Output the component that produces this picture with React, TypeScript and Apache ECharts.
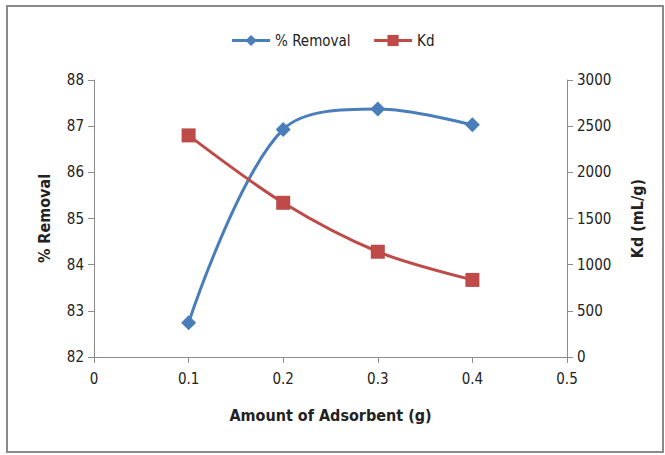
import React, { useEffect, useRef } from "react";
import * as echarts from "echarts";

const adsorbentAmounts = [0.1, 0.2, 0.3, 0.4];
const removalPercent = [82.74, 86.93, 87.37, 87.03];
const kdValues = [2400, 1670, 1140, 835];

const FONT = "'Liberation Sans Narrow', 'DejaVu Sans Condensed', 'Open Sans', sans-serif";
const BLUE = "#4A7EBB";
const RED = "#BE4B48";
const AXIS = "#8C8C8C";

export default function App() {
  const ref = useRef<HTMLDivElement>(null);

  useEffect(() => {
    if (!ref.current) return;
    const chart = echarts.init(ref.current, null, { renderer: "svg" });
    const axisBase = {
      axisLine: { show: true, lineStyle: { color: AXIS, width: 1 } },
      axisTick: { show: true, length: 6, inside: false, lineStyle: { color: AXIS } },
      splitLine: { show: false },
      axisLabel: { color: "#222", fontFamily: FONT, fontSize: 15, margin: 10 },
    };
    chart.setOption({
      animation: false,
      backgroundColor: "#fff",
      textStyle: { fontFamily: FONT },
      graphic: [
        {
          type: "rect",
          shape: { x: 7, y: 6, width: 656, height: 446 },
          style: { fill: "none", stroke: "#8A8A8A", lineWidth: 2 },
          silent: true,
        },
      ],
      legend: {
        top: 28,
        left: "center",
        itemWidth: 38,
        itemHeight: 14,
        itemGap: 22,
        lineStyle: { width: 3 },
        textStyle: { fontFamily: FONT, fontSize: 15, color: "#222" },
        data: ["% Removal", "Kd"],
      },
      grid: { left: 94, right: 98, top: 80, bottom: 98 },
      xAxis: {
        type: "value",
        min: 0,
        max: 0.5,
        interval: 0.1,
        name: "Amount of Adsorbent (g)",
        nameLocation: "middle",
        nameGap: 50,
        nameTextStyle: { fontFamily: FONT, fontSize: 16, fontWeight: "bold", color: "#222" },
        ...axisBase,
        axisLabel: { ...axisBase.axisLabel, margin: 14 },
      },
      yAxis: [
        {
          type: "value",
          min: 82,
          max: 88,
          interval: 1,
          position: "left",
          name: "% Removal",
          nameLocation: "middle",
          nameRotate: 90,
          nameGap: 42,
          nameTextStyle: { fontFamily: FONT, fontSize: 16, fontWeight: "bold", color: "#222" },
          ...axisBase,
        },
        {
          type: "value",
          min: 0,
          max: 3000,
          interval: 500,
          position: "right",
          name: "Kd (mL/g)",
          nameLocation: "middle",
          nameRotate: 90,
          nameGap: 62,
          nameTextStyle: { fontFamily: FONT, fontSize: 16, fontWeight: "bold", color: "#222" },
          ...axisBase,
          axisLabel: { ...axisBase.axisLabel, formatter: (v: number) => String(v) },
        },
      ],
      series: [
        {
          name: "% Removal",
          type: "line",
          yAxisIndex: 0,
          smooth: 0.35,
          symbol: "diamond",
          symbolSize: 15,
          lineStyle: { color: BLUE, width: 3 },
          itemStyle: { color: BLUE },
          data: adsorbentAmounts.map((x, i) => [x, removalPercent[i]]),
        },
        {
          name: "Kd",
          type: "line",
          yAxisIndex: 1,
          smooth: 0.3,
          symbol: "rect",
          symbolSize: 14,
          lineStyle: { color: RED, width: 3 },
          itemStyle: { color: RED },
          data: adsorbentAmounts.map((x, i) => [x, kdValues[i]]),
        },
      ],
    });
    return () => chart.dispose();
  }, []);

  return <div ref={ref} style={{ width: 665, height: 455, position: "absolute", left: 0, top: 0 }} />;
}
